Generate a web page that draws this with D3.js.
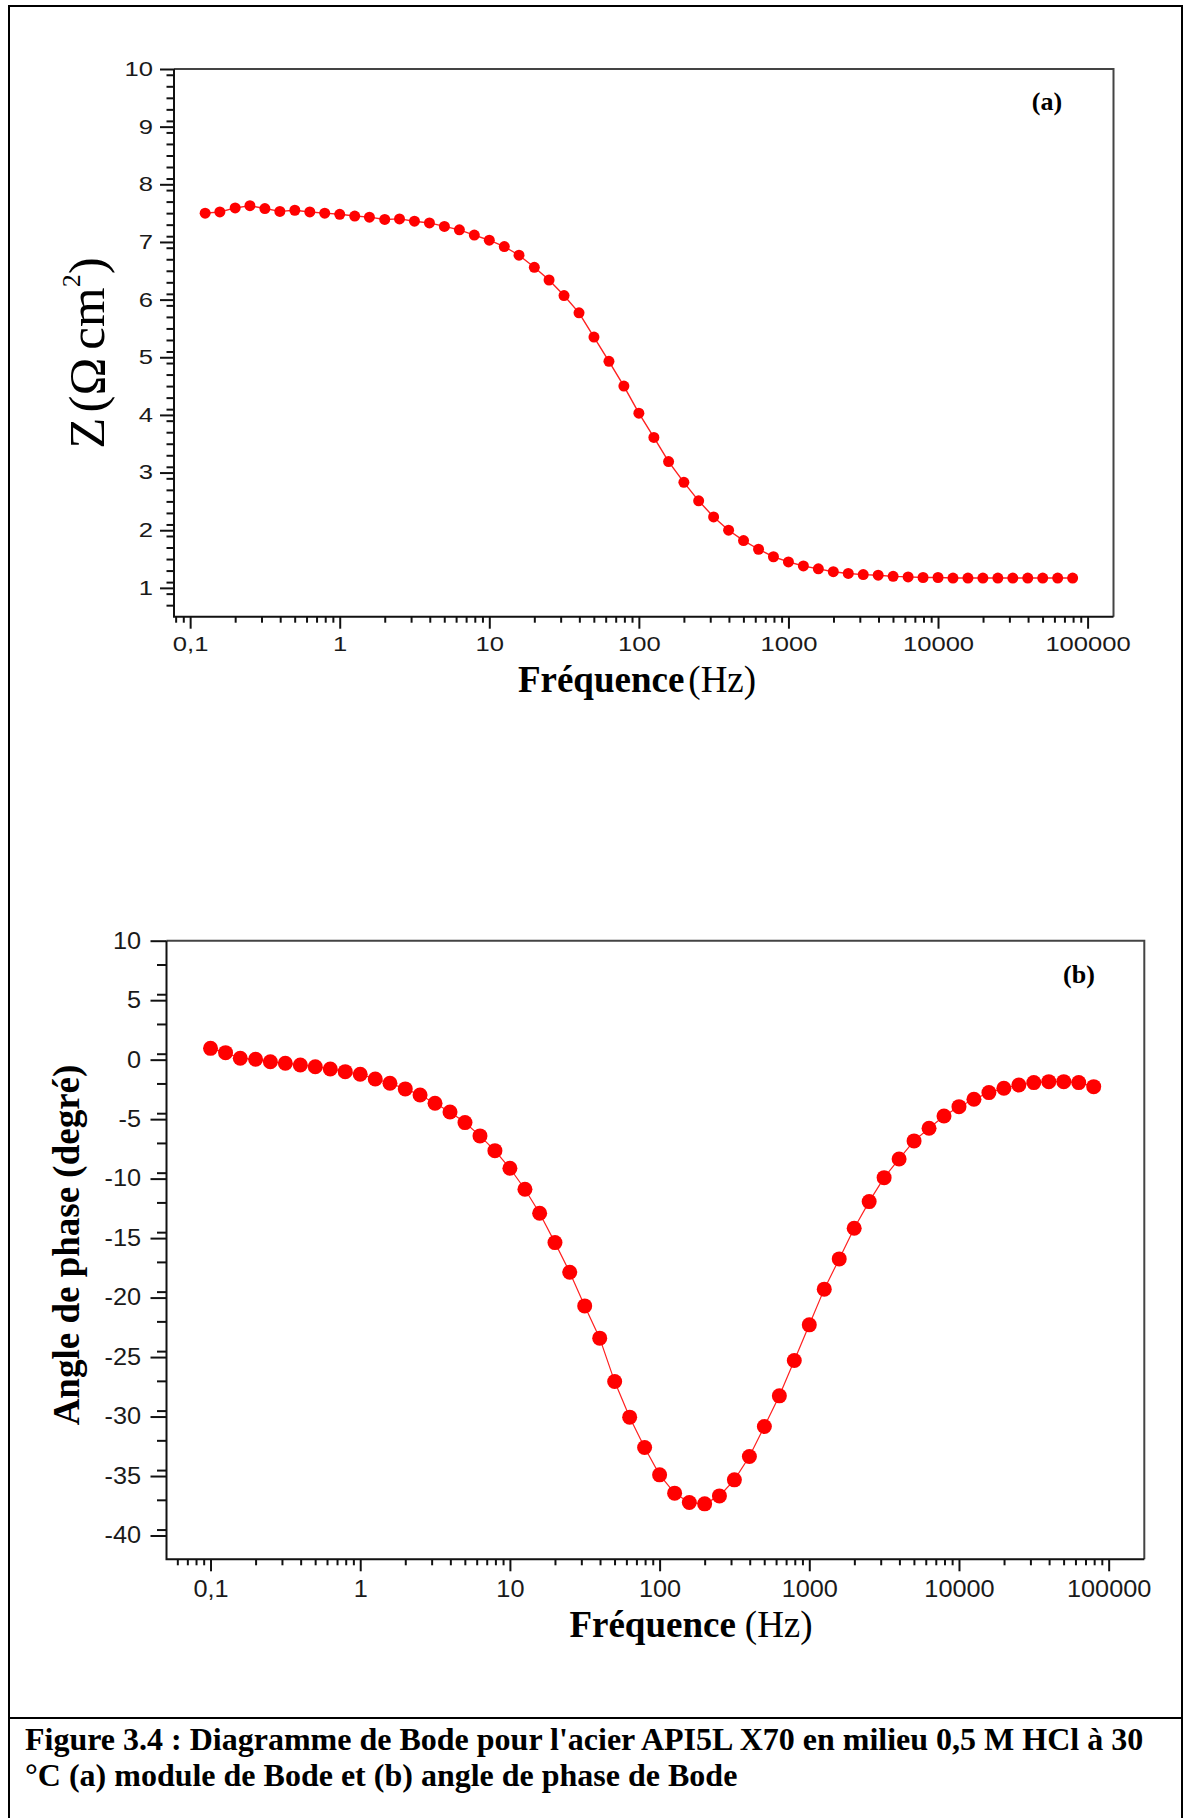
<!DOCTYPE html>
<html>
<head>
<meta charset="utf-8">
<script src="https://cdn.jsdelivr.net/npm/d3@7/dist/d3.min.js"></script>
<style>
    body { margin: 0; background: #fff; }
    svg { display: block; }
    .tick text { font-family: "Liberation Sans", Arial, sans-serif; fill: #1a1a1a; }
    .tick line { stroke: #111; stroke-width: 2; }
    .domain { display: none; }
</style>
</head>
<body>
<svg id="chart" width="1184" height="1818"></svg>
<script>
// Values (frequency in Hz).
const freqA = [0.126, 0.158, 0.2, 0.251, 0.316, 0.398, 0.501, 0.631, 0.794,
    1, 1.26, 1.58, 2, 2.51, 3.16, 3.98, 5.01, 6.31, 7.94,
    10, 12.6, 15.8, 20, 25.1, 31.6, 39.8, 50.1, 63.1, 79.4,
    100, 126, 158, 200, 251, 316, 398, 501, 631, 794,
    1000, 1259, 1585, 1995, 2512, 3162, 3981, 5012, 6310, 7943,
    10000, 12589, 15849, 19953, 25119, 31623, 39811, 50119, 63096, 79433];

const modulusA = [7.50, 7.52, 7.59, 7.63, 7.58, 7.53, 7.55, 7.52, 7.50,
    7.48, 7.45, 7.43, 7.39, 7.40, 7.36, 7.33, 7.27, 7.21, 7.12,
    7.03, 6.92, 6.77, 6.56, 6.34, 6.07, 5.77, 5.35, 4.93, 4.50,
    4.03, 3.61, 3.19, 2.83, 2.51, 2.23, 2.00, 1.82, 1.67, 1.54,
    1.45, 1.38, 1.33, 1.28, 1.25, 1.23, 1.22, 1.20, 1.19, 1.18,
    1.18, 1.17, 1.17, 1.17, 1.17, 1.17, 1.17, 1.17, 1.17, 1.17];

const freqB = [0.1, 0.126, 0.158, 0.2, 0.251, 0.316, 0.398, 0.501, 0.631, 0.794,
    1, 1.26, 1.58, 2, 2.51, 3.16, 3.98, 5.01, 6.31, 7.94,
    10, 12.6, 15.8, 20, 25.1, 31.6, 39.8, 50.1, 63.1, 79.4,
    100, 126, 158, 200, 251, 316, 398, 501, 631, 794,
    1000, 1259, 1585, 1995, 2512, 3162, 3981, 5012, 6310, 7943,
    10000, 12589, 15849, 19953, 25119, 31623, 39811, 50119, 63096, 79433];

const phaseB = [0.95, 0.59, 0.12, 0.03, -0.17, -0.30, -0.45, -0.59, -0.78, -1.01,
    -1.23, -1.62, -1.98, -2.46, -2.97, -3.66, -4.40, -5.29, -6.41, -7.65,
    -9.13, -10.89, -12.91, -15.38, -17.87, -20.70, -23.41, -27.06, -30.05, -32.6,
    -34.9, -36.44, -37.23, -37.34, -36.67, -35.32, -33.36, -30.84, -28.26, -25.29,
    -22.29, -19.29, -16.75, -14.17, -11.93, -9.92, -8.35, -6.83, -5.77, -4.73,
    -3.95, -3.33, -2.77, -2.40, -2.13, -1.93, -1.85, -1.85, -1.93, -2.27];

const xTicks = [0.1, 1, 10, 100, 1000, 10000, 100000];
const yTicksA = [1, 2, 3, 4, 5, 6, 7, 8, 9, 10];
const yTicksB = [-40, -35, -30, -25, -20, -15, -10, -5, 0, 5, 10];

const captionLines = [
    "Figure 3.4 : Diagramme de Bode pour l'acier API5L X70 en milieu 0,5 M HCl à 30",
    "°C (a) module de Bode et (b) angle de phase de Bode"
];

const svg = d3.select('#chart');
const serif = '"Liberation Serif", "Times New Roman", serif';

drawFrame();

drawPanel({
    freq: freqA, values: modulusA,
    left: 174, right: 1113.5, top: 69, bottom: 616.7,
    xDomain: [0.078, 149000], yDomain: [0.5, 10],
    yTicks: yTicksA, yMinorStep: 0.2,
    fontSize: 20, stretch: 1.28,
    xTickSize: 12, xMinorSize: 6, xPad: 8,
    yTickSize: 14, yMinorSize: 7.5, yGap: 21,
    radius: 5.5, lineWidth: 1.4,
    tag: '(a)', tagX: 1047, tagY: 110,
    xTitleX: 637, xTitleY: 692, titleGap: 4
});

drawPanel({
    freq: freqB, values: phaseB,
    left: 166.5, right: 1144.3, top: 940.7, bottom: 1559.3,
    xDomain: [0.0508, 173000], yDomain: [-42, 10],
    yTicks: yTicksB, yMinorStep: 2.5,
    fontSize: 23, stretch: 1.1,
    xTickSize: 12, xMinorSize: 6, xPad: 9,
    yTickSize: 16, yMinorSize: 9.5, yGap: 25.5,
    radius: 7.5, lineWidth: 1.2,
    tag: '(b)', tagX: 1079, tagY: 983,
    xTitleX: 691, xTitleY: 1637, titleGap: 9
});

drawYTitles();
drawCaption();

function drawFrame() {
    svg.append('rect')
        .attr('x', 9).attr('y', 6)
        .attr('width', 1173).attr('height', 1830)
        .attr('fill', 'none')
        .attr('stroke', '#000')
        .attr('stroke-width', 2);

    svg.append('line')
        .attr('x1', 9).attr('x2', 1182)
        .attr('y1', 1718).attr('y2', 1718)
        .attr('stroke', '#000')
        .attr('stroke-width', 2);
}

function drawPanel(p) {
    const x = d3.scaleLog().domain(p.xDomain).range([p.left, p.right]);
    const y = d3.scaleLinear().domain(p.yDomain).range([p.bottom, p.top]);
    const g = svg.append('g');

    // minor tick positions
    const xMinor = [];
    for (let e = -2; e <= 5; e++) {
        for (let m = 2; m <= 9; m++) {
            const v = +(m * Math.pow(10, e)).toPrecision(6);
            if (v > p.xDomain[0] && v < p.xDomain[1]) xMinor.push(v);
        }
    }
    const yMinor = d3.range(p.yDomain[0], p.yDomain[1] + 1e-9, p.yMinorStep)
        .map(v => +v.toFixed(3))
        .filter(v => v > p.yDomain[0] && !p.yTicks.includes(v));

    // axes
    g.append('g')
        .attr('transform', `translate(0, ${p.bottom})`)
        .call(d3.axisBottom(x).tickValues(xMinor).tickSize(p.xMinorSize).tickFormat(''));
    g.append('g')
        .attr('transform', `translate(0, ${p.bottom})`)
        .call(d3.axisBottom(x)
            .tickValues(xTicks)
            .tickSize(p.xTickSize)
            .tickPadding(p.xPad)
            .tickFormat(d => d < 1 ? String(d).replace('.', ',') : String(d)))
        .selectAll('text')
        .style('font-size', p.fontSize + 'px')
        .attr('transform', `scale(${p.stretch}, 1)`);

    g.append('g')
        .attr('transform', `translate(${p.left}, 0)`)
        .call(d3.axisLeft(y).tickValues(yMinor).tickSize(p.yMinorSize).tickFormat(''));
    g.append('g')
        .attr('transform', `translate(${p.left}, 0)`)
        .call(d3.axisLeft(y).tickValues(p.yTicks).tickSize(p.yTickSize).tickFormat(d => String(d)))
        .selectAll('text')
        .style('font-size', p.fontSize + 'px')
        .attr('x', -p.yGap / p.stretch)
        .attr('transform', `scale(${p.stretch}, 1)`);

    // plot box
    g.append('path')
        .attr('d', `M${p.left},${p.top}H${p.right}V${p.bottom}`)
        .attr('fill', 'none')
        .attr('stroke', '#444')
        .attr('stroke-width', 2);
    g.append('path')
        .attr('d', `M${p.left},${p.top}V${p.bottom}H${p.right}`)
        .attr('fill', 'none')
        .attr('stroke', '#111')
        .attr('stroke-width', 2);

    // series
    const points = p.freq.map((f, i) => ({f: f, v: p.values[i]}));
    const line = d3.line().x(d => x(d.f)).y(d => y(d.v));

    g.append('path')
        .datum(points)
        .attr('d', line)
        .attr('fill', 'none')
        .attr('stroke', '#ff2020')
        .attr('stroke-width', p.lineWidth);

    g.selectAll('.dot')
        .data(points)
        .enter()
        .append('circle')
        .attr('class', 'dot')
        .attr('cx', d => x(d.f))
        .attr('cy', d => y(d.v))
        .attr('r', p.radius)
        .style('fill', '#ff0000');

    // panel tag
    g.append('text')
        .attr('x', p.tagX).attr('y', p.tagY)
        .attr('text-anchor', 'middle')
        .style('font-family', serif)
        .style('font-weight', 'bold')
        .style('font-size', '26px')
        .text(p.tag);

    // x title
    const xt = g.append('text')
        .attr('x', p.xTitleX).attr('y', p.xTitleY)
        .attr('text-anchor', 'middle')
        .style('font-family', serif)
        .style('font-size', '37px');
    xt.append('tspan').style('font-weight', 'bold').text('Fréquence');
    xt.append('tspan').attr('dx', p.titleGap).text('(Hz)');
}

function drawYTitles() {
    const za = svg.append('text')
        .attr('transform', 'translate(104, 353) rotate(-90)')
        .attr('text-anchor', 'middle')
        .style('font-family', serif)
        .style('font-size', '51px');
    za.append('tspan').text('Z');
    za.append('tspan').attr('dx', 5).text('(');
    za.append('tspan').text('Ω');
    za.append('tspan').attr('dx', 8).text('cm');
    za.append('tspan').attr('dy', -24).style('font-size', '26px').text('2');
    za.append('tspan').attr('dy', 24).text(')');

    svg.append('text')
        .attr('transform', 'translate(79, 1245) rotate(-90)')
        .attr('text-anchor', 'middle')
        .style('font-family', serif)
        .style('font-weight', 'bold')
        .style('font-size', '37px')
        .text('Angle de phase (degré)');
}

function drawCaption() {
    svg.append('g')
        .selectAll('text')
        .data(captionLines)
        .enter()
        .append('text')
        .attr('x', 25)
        .attr('y', (d, i) => 1750 + i * 36)
        .style('font-family', serif)
        .style('font-weight', 'bold')
        .style('font-size', '32px')
        .text(d => d);
}
</script>
</body>
</html>
